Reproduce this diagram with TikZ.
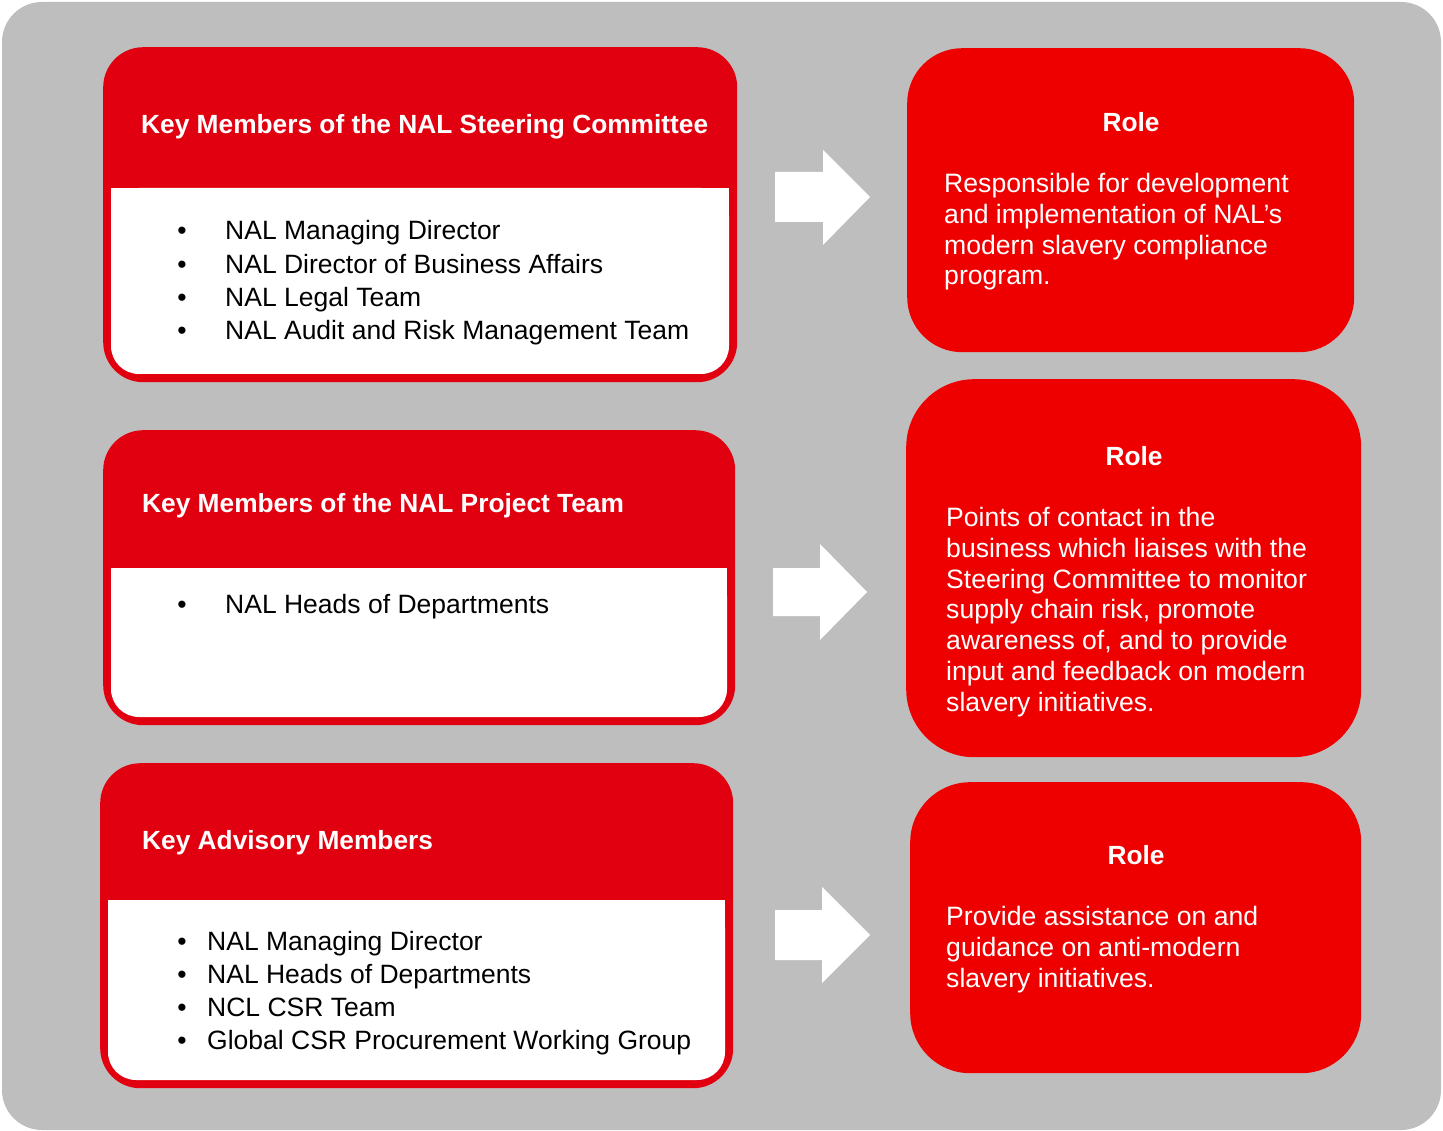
\documentclass[tikz,border=0pt]{standalone}
\usepackage{fontspec}
\setmainfont{Liberation Sans}
\definecolor{panelgray}{HTML}{BEBEBE}
\definecolor{hdrred}{HTML}{E1000F}
\definecolor{rolered}{HTML}{EE0000}
\begin{document}
\begin{tikzpicture}[x=1pt,y=-1pt,
  groupbox/.style={draw=none,fill=hdrred,rounded corners=40pt,anchor=north west,inner sep=0pt},
  rolebox/.style={draw=none,fill=rolered,anchor=north west,inner sep=0pt},
  hdr/.style={anchor=base west,inner sep=0pt,text=white,font=\fontsize{26.3}{30}\selectfont\bfseries},
  item/.style={anchor=base west,inner sep=0pt,font=\fontsize{26.5}{31}\selectfont},
  dot/.style={anchor=base,inner sep=0pt,font=\fontsize{26.5}{31}\selectfont},
  roletitle/.style={anchor=base,inner sep=0pt,text=white,font=\fontsize{26.3}{30}\selectfont\bfseries},
  roletext/.style={anchor=north west,inner sep=0pt,text=white,align=left,font=\fontsize{26.6}{30.8}\selectfont},
  bigarrow/.style={fill=white,draw=none}]
\useasboundingbox (0,0) rectangle (1443,1131);
% background panel
\fill[panelgray,rounded corners=40pt] (2,2) rectangle (1441,1130);

% ---- left column: member groups ----
\node[groupbox,minimum width=634pt,minimum height=335pt] (g1) at (103,47) {};
\fill[white,rounded corners=28pt] (111,188) -- (729,188) -- (729,374) -- (111,374) -- cycle;
\fill[white] (111,188) rectangle (729,230);
\node[hdr] (g1h) at (141,133.5) {Key Members of the NAL Steering Committee};
\foreach \y/\t [count=\i] in {239.5/NAL Managing Director,273.5/NAL Director of Business Affairs,306.5/NAL Legal Team,339.5/NAL Audit and Risk Management Team}{
  \node[dot] (g1d\i) at (182,\y) {•};
  \node[item] (g1i\i) at (225,\y) {\t};
}

\node[groupbox,minimum width=632pt,minimum height=295pt] (g2) at (103,430) {};
\fill[white,rounded corners=28pt] (111,568) -- (727,568) -- (727,717) -- (111,717) -- cycle;
\fill[white] (111,568) rectangle (727,610);
\node[hdr] (g2h) at (142,512.5) {Key Members of the NAL Project Team};
\node[dot] (g2d1) at (182,613.5) {•};
\node[item] (g2i1) at (225,613.5) {NAL Heads of Departments};

\node[groupbox,minimum width=633pt,minimum height=325pt] (g3) at (100,763) {};
\fill[white,rounded corners=28pt] (108,900) -- (725,900) -- (725,1080) -- (108,1080) -- cycle;
\fill[white] (108,900) rectangle (725,942);
\node[hdr] (g3h) at (142,849.5) {Key Advisory Members};
\foreach \y/\t [count=\i] in {950.5/NAL Managing Director,983.5/NAL Heads of Departments,1016.5/NCL CSR Team,1049.5/Global CSR Procurement Working Group}{
  \node[dot] (g3d\i) at (182,\y) {•};
  \node[item] (g3i\i) at (207,\y) {\t};
}

% ---- arrows ----
\fill[bigarrow] (775,172) -- (823,172) -- (823,150) -- (870,197) -- (823,245) -- (823,222) -- (775,222) -- cycle;
\fill[bigarrow] (773,568) -- (820,568) -- (820,544) -- (867,592) -- (820,640) -- (820,616) -- (773,616) -- cycle;
\fill[bigarrow] (775,910) -- (822,910) -- (822,887) -- (870,935) -- (822,983) -- (822,960) -- (775,960) -- cycle;

% ---- right column: roles ----
\node[rolebox,rounded corners=55pt,minimum width=447pt,minimum height=304pt] (r1) at (907,48) {};
\node[roletitle] (r1t) at (1131,131.5) {Role};
\node[roletext] (r1b) at (944,173) {Responsible for development\\and implementation of NAL’s\\modern slavery compliance\\program.};

\node[rolebox,rounded corners=68pt,minimum width=455pt,minimum height=378pt] (r2) at (906,379) {};
\node[roletitle] (r2t) at (1134,465.5) {Role};
\node[roletext] (r2b) at (946,507) {Points of contact in the\\business which liaises with the\\Steering Committee to monitor\\supply chain risk, promote\\awareness of, and to provide\\input and feedback on modern\\slavery initiatives.};

\node[rolebox,rounded corners=60pt,minimum width=451pt,minimum height=291pt] (r3) at (910,782) {};
\node[roletitle] (r3t) at (1136,864.5) {Role};
\node[roletext] (r3b) at (946,906) {Provide assistance on and\\guidance on anti-modern\\slavery initiatives.};
\end{tikzpicture}
\end{document}
